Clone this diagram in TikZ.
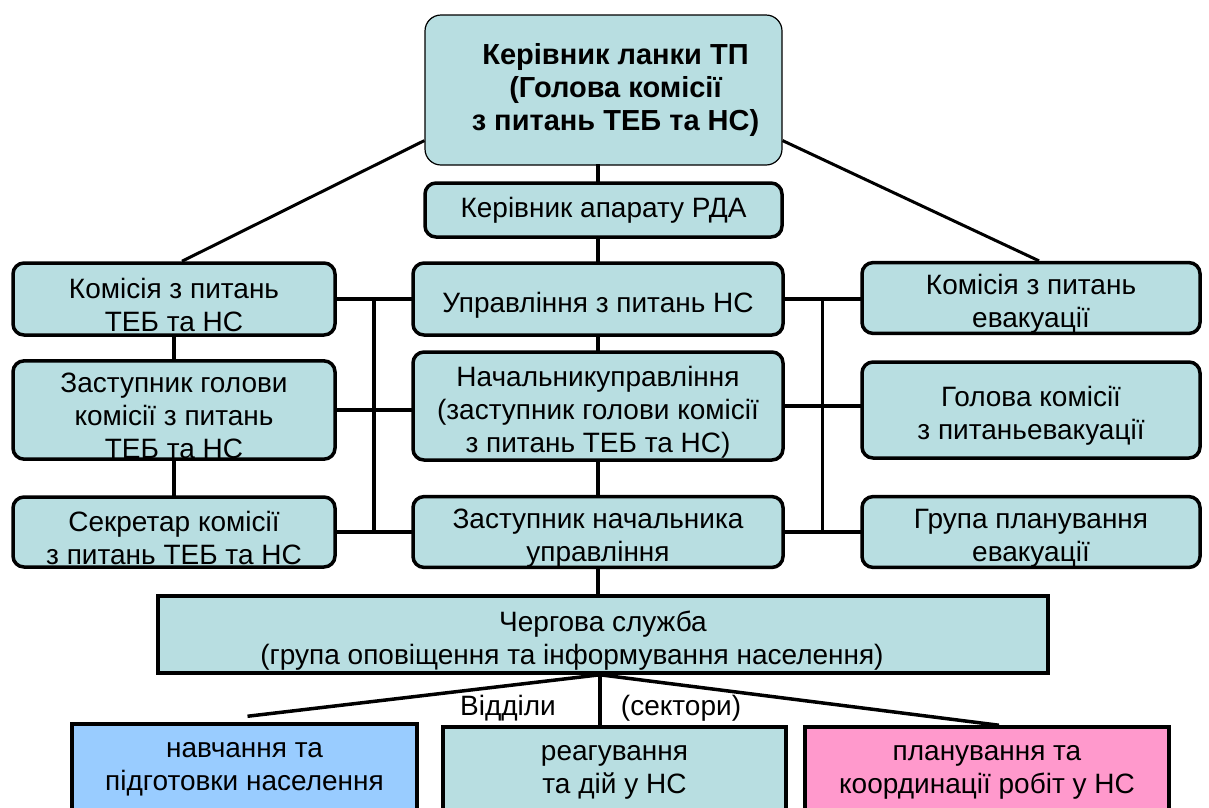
\documentclass[tikz,border=0pt]{standalone}
\usepackage{fontspec}
\setmainfont{Liberation Sans}
\usetikzlibrary{calc}
\definecolor{boxfill}{RGB}{184,222,225}
\definecolor{bluefill}{HTML}{99CCFF}
\definecolor{pinkfill}{HTML}{FF99CC}
\newcommand\lowstrut{\rule{0pt}{32pt}}
\begin{document}
\begin{tikzpicture}[x=1pt,y=-1pt,
  every node/.style={font=\fontsize{28}{33}\selectfont},
  rbox/.style={draw=black, fill=boxfill, line width=3.5pt, rounded corners=11pt, align=center, inner sep=0pt},
  sbox/.style={draw=black, fill=boxfill, line width=3.5pt, align=center, inner sep=0pt},
  conn/.style={line width=3.5pt, line cap=rect}]
\useasboundingbox (0,0) rectangle (1209,807);
\clip (0,0) rectangle (1209,807);
% nodes
\node[draw=black, fill=boxfill, line width=1.2pt, rounded corners=16pt, align=center, inner sep=0pt,
  minimum width=357, minimum height=150, font=\fontsize{29}{33}\selectfont\bfseries] (top) at (603.5,90)
  {\hspace*{24pt}Керівник ланки ТП\\\hspace*{24pt}(Голова комісії\\\hspace*{24pt}з питань ТЕБ та НС)};
\node[rbox, minimum width=357, minimum height=54] (rda) at (603.5,210) {Керівник апарату РДА};
\node[rbox, minimum width=322, minimum height=72] (L1) at (174,299) {\lowstrut Комісія з питань\\ТЕБ та НС};
\node[rbox, minimum width=322, minimum height=96] (L2) at (174,410) {\lowstrut Заступник голови\\комісії з питань\\ТЕБ та НС};
\node[rbox, minimum width=322, minimum height=70] (L3) at (174,532) {\lowstrut Секретар комісії\\з питань ТЕБ та НС};
\node[rbox, minimum width=370, minimum height=72] (M1) at (598,299) {\lowstrut Управління з питань НС};
\node[rbox, minimum width=370, minimum height=108] (M2) at (598,406) {\lowstrut Начальникуправління\\(заступник голови комісії\\з питань ТЕБ та НС)};
\node[rbox, minimum width=370, minimum height=70] (M3) at (598,532) {\lowstrut Заступник начальника\\управління};
\node[rbox, minimum width=338, minimum height=70] (R1) at (1031,298) {\lowstrut Комісія з питань\\евакуації};
\node[rbox, minimum width=338, minimum height=96] (R2) at (1031,410) {\lowstrut Голова комісії\\з питаньевакуації};
\node[rbox, minimum width=338, minimum height=70] (R3) at (1031,532) {\lowstrut Група планування\\евакуації};
\node[sbox, minimum width=890, minimum height=77] (ch) at (603,634.5) {\lowstrut Чергова служба\\(група оповіщення та інформування населення)\hspace*{62pt}};
\node[sbox, fill=bluefill, minimum width=345, minimum height=90] (B1) at (244.5,769) {навчання та\\підготовки населення};
\node[sbox, minimum width=343, minimum height=90] (B2) at (614.5,772) {реагування\\та дій у НС};
\node[sbox, fill=pinkfill, minimum width=364, minimum height=90] (B3) at (987,772) {планування та\\координації робіт у НС};
\node (lv) at (508,708) {Відділи};
\node (ls) at (681,708) {(сектори)};
% connectors
\coordinate (chb) at ($(M3.south |- ch.south)+(2,0)$);
\draw[conn] (M1.north |- top.south) -- (M1.north |- rda.north);
\draw[conn] (M1.north |- rda.south) -- (M1.north);
\draw[conn] (M1.south) -- (M2.north);
\draw[conn] (M2.south) -- (M3.north);
\draw[conn] (M3.south) -- (M3.south |- ch.north);
\draw[line width=3pt] ($(top.south west)+(0,-25)$) -- ($(L1.north)+(8,0)$);
\draw[line width=3pt] ($(top.south east)+(0,-25)$) -- ($(R1.north)+(8,0)$);
\draw[conn] (L1.south) -- (L2.north);
\draw[conn] (L2.south) -- (L3.north);
\draw[conn] (L1.east) -- (L1.east -| M1.west);
\draw[conn] (L2.east) -- (L2.east -| M2.west);
\draw[conn] (L3.east) -- (L3.east -| M3.west);
\draw[conn] ($(L1.east)!0.5!(M1.west)$) -- ($(L3.east)!0.5!(M3.west)$);
\draw[conn] (M1.east) -- (M1.east -| R1.west);
\draw[conn] (M2.east) -- (M2.east -| R2.west);
\draw[conn] (M3.east) -- (M3.east -| R3.west);
\draw[conn] ($(M1.east)!0.5!(R1.west)$) -- ($(M3.east)!0.5!(R3.west)$);
\draw[line width=3.5pt] (chb) -- ($(B1.north)+(3,-6)$);
\draw[conn] (chb) -- (chb |- B2.north);
\draw[line width=3.5pt] (chb) -- ($(B3.north)+(12,0)$);
\end{tikzpicture}
\end{document}
